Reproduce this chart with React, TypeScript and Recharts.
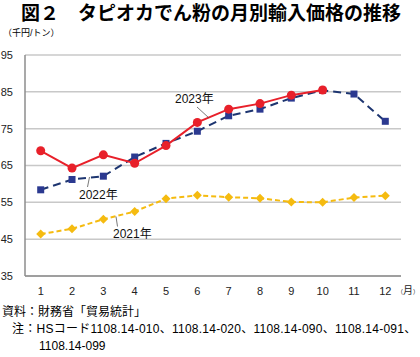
import { LineChart, Line, XAxis, YAxis, CartesianGrid } from "recharts";

const MONTHS = ["1", "2", "3", "4", "5", "6", "7", "8", "9", "10", "11", "12"];
const Y2021 = [46.4, 47.8, 50.4, 52.5, 56.0, 56.9, 56.4, 56.1, 55.1, 55.0, 56.3, 56.8];
const Y2022 = [58.4, 61.2, 62.1, 67.3, 71.0, 74.3, 78.5, 80.3, 83.3, 85.4, 84.4, 77.0];
const Y2023 = [69.0, 64.3, 67.9, 65.6, 70.4, 76.7, 80.3, 81.8, 84.1, 85.5, null, null];
const Y_TICKS = [35, 45, 55, 65, 75, 85, 95];

const FONT = '"Liberation Sans", "Noto Sans CJK JP", sans-serif';

const RED = "#e8202a";
const NAVY = "#1d3570";
const NAVY_MARK = "#2b3990";
const YELLOW = "#f5bb10";
const AXIS = "#8c8c8c";

const rows = MONTHS.map((m, i) => ({
  month: m,
  y2021: Y2021[i],
  y2022: Y2022[i],
  y2023: Y2023[i],
}));

// custom markers
function Circle(props: any) {
  const { cx, cy, value } = props;
  if (value == null || cx == null) return null;
  return <circle key={props.index} cx={cx} cy={cy} r={4.5} fill={RED} stroke="none" />;
}

function Square(props: any) {
  const { cx, cy, value } = props;
  if (value == null || cx == null) return null;
  return <rect key={props.index} x={cx - 3.5} y={cy - 3.5} width={7} height={7} fill={NAVY_MARK} />;
}

function Diamond(props: any) {
  const { cx, cy, value } = props;
  if (value == null || cx == null) return null;
  const d = 4.5;
  return (
    <polygon
      key={props.index}
      points={`${cx},${cy - d} ${cx + d},${cy} ${cx},${cy + d} ${cx - d},${cy}`}
      fill={YELLOW}
    />
  );
}

export default function App() {
  return (
    <div style={{ position: "absolute", left: 0, top: 0, width: 420, height: 357, fontFamily: FONT, background: "#fff" }}>
      <div
        style={{
          position: "absolute",
          left: 21,
          top: 3,
          fontSize: 19,
          fontWeight: "bold",
          whiteSpace: "nowrap",
          lineHeight: "22px",
        }}
      >
        図２　タピオカでん粉の月別輸入価格の推移
      </div>
      <div style={{ position: "absolute", left: 3, top: 27, fontSize: 9, lineHeight: "12px", whiteSpace: "nowrap" }}>
        （千円/トン）
      </div>

      <LineChart width={420} height={357} margin={{ top: 55, right: 19, bottom: 51, left: 0 }} data={rows}>
        <CartesianGrid horizontal vertical={false} stroke="#c8c8c8" strokeWidth={1.5} />
        <XAxis
          dataKey="month"
          padding={{ left: 15.7, right: 15.7 }}
          tickLine={false}
          tickSize={0}
          tickMargin={11}
          height={30}
          axisLine={{ stroke: AXIS, strokeWidth: 1.5 }}
          tick={{ fontSize: 11, fill: "#222", fontFamily: FONT }}
          interval={0}
        />
        <XAxis xAxisId="top" orientation="top" dataKey="month" height={0} tick={false} tickLine={false} axisLine={{ stroke: AXIS, strokeWidth: 1.5 }} />
        <YAxis
          domain={[35, 95]}
          ticks={Y_TICKS}
          width={25}
          tickLine={false}
          tickSize={0}
          tickMargin={12}
          axisLine={{ stroke: AXIS, strokeWidth: 1.5 }}
          tick={{ fontSize: 11, fill: "#222", fontFamily: FONT }}
        />
        <YAxis yAxisId="right" orientation="right" width={0} domain={[35, 95]} tick={false} tickLine={false} axisLine={{ stroke: AXIS, strokeWidth: 1.5 }} />
        <Line
          dataKey="y2021"
          stroke={YELLOW}
          strokeWidth={2}
          strokeDasharray="5 3"
          dot={<Diamond />}
          activeDot={false}
          isAnimationActive={false}
        />
        <Line
          dataKey="y2022"
          stroke={NAVY}
          strokeWidth={2}
          strokeDasharray="8 5"
          dot={<Square />}
          activeDot={false}
          isAnimationActive={false}
        />
        <Line
          dataKey="y2023"
          stroke={RED}
          strokeWidth={2}
          dot={<Circle />}
          activeDot={false}
          isAnimationActive={false}
          connectNulls={false}
        />
      </LineChart>

      {/* series labels */}
      <svg width={420} height={357} style={{ position: "absolute", left: 0, top: 0, pointerEvents: "none" }}>
        <g fontFamily={FONT} fontSize={12} fill="#111">
          <text x={175} y={103}>2023年</text>
          <text x={79} y={199}>2022年</text>
          <text x={113} y={238}>2021年</text>
        </g>
        <g stroke="#555" strokeWidth={0.8}>
          <line x1={197} y1={107} x2={209} y2={118} />
          <line x1={87.5} y1={187} x2={89.5} y2={177} />
          <line x1={116} y1={216.5} x2={117.5} y2={226.5} />
        </g>
        <text x={397} y={294} fontFamily={FONT} fill="#222">
          <tspan fontSize={6}>（</tspan>
          <tspan fontSize={10}>月</tspan>
          <tspan fontSize={6}>）</tspan>
        </text>
      </svg>

      <div style={{ position: "absolute", left: 2, top: 304, fontSize: 12, lineHeight: "17px", whiteSpace: "nowrap" }}>
        <div>資料：財務省「貿易統計」</div>
        <div style={{ paddingLeft: 10, letterSpacing: 0.25 }}>注：HSコード1108.14-010、1108.14-020、1108.14-090、1108.14-091、</div>
        <div style={{ paddingLeft: 37 }}>1108.14-099</div>
      </div>
    </div>
  );
}
